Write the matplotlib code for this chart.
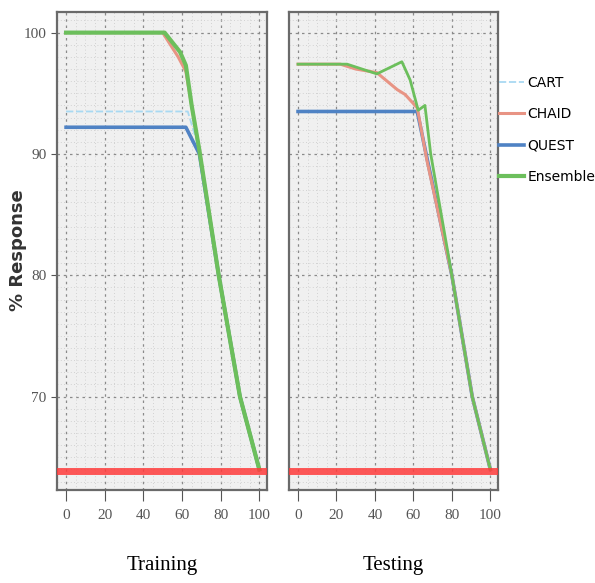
import matplotlib
matplotlib.use('Agg')
import matplotlib.pyplot as plt
from matplotlib.ticker import MultipleLocator

# Training panel
train_cart_x = [0, 63, 69, 79, 90, 100]
train_cart_y = [93.5, 93.5, 90.3, 80, 70, 64]
train_chaid_x = [0, 50, 58, 62, 65, 69, 79, 90, 100]
train_chaid_y = [100, 100, 98, 96.8, 94, 90.3, 80, 70, 64]
train_quest_x = [0, 62, 69, 79, 90, 100]
train_quest_y = [92.2, 92.2, 90, 80, 70, 64]
train_ens_x = [0, 51, 59, 62, 65, 69, 79, 90, 100]
train_ens_y = [100, 100, 98.4, 97.3, 94, 90.3, 80, 70, 64]

# Testing panel
test_cart_x = [0, 62, 67, 80, 90.6, 100]
test_cart_y = [93.5, 93.5, 89.7, 80, 70, 64]
test_chaid_x = [0, 22, 30, 41, 51.6, 55.7, 62, 67, 80, 90.6, 100]
test_chaid_y = [97.4, 97.4, 97.0, 96.7, 95.3, 94.9, 93.8, 89.5, 80, 70, 64]
test_quest_x = [0, 62, 67, 80, 90.6, 100]
test_quest_y = [93.5, 93.5, 89.7, 80, 70, 64]
test_ens_x = [0, 25.5, 41, 54, 58.3, 62.5, 66, 69, 80, 90.6, 100]
test_ens_y = [97.4, 97.4, 96.6, 97.6, 96.1, 93.6, 94.0, 90, 80, 70, 64]

baseline = 63.9
panel_titles = ['Training', 'Testing']
series_names = ['CART', 'CHAID', 'QUEST', 'Ensemble']
x_ticks = [0, 20, 40, 60, 80, 100]
y_ticks = [70, 80, 90, 100]

styles = {
    'CART': dict(color='#a9d9f2', lw=1.3, ls=(0, (4, 1.5)), zorder=3),
    'CHAID': dict(color='#e89484', lw=2.2, zorder=4),
    'QUEST': dict(color='#4f82c4', lw=2.6, zorder=3),
    'Ensemble': dict(color='#6cbf5c', lw=2.0, zorder=5),
}

data = [
    [(train_cart_x, train_cart_y), (train_chaid_x, train_chaid_y),
     (train_quest_x, train_quest_y), (train_ens_x, train_ens_y)],
    [(test_cart_x, test_cart_y), (test_chaid_x, test_chaid_y),
     (test_quest_x, test_quest_y), (test_ens_x, test_ens_y)],
]

fig = plt.figure(figsize=(5.95, 5.83), dpi=100)
ax_l = fig.add_axes([57/595, 1-490/583, 210/595, 478/583])
ax_r = fig.add_axes([289/595, 1-490/583, 209/595, 478/583])

tick_font = dict(family='Liberation Serif', size=11)

for i, ax in enumerate([ax_l, ax_r]):
    ax.set_facecolor('#f0f0f0')
    for name, (xs, ys) in zip(series_names, data[i]):
        st = dict(styles[name])
        if i == 0 and name == 'Ensemble':
            st['lw'] = 3.0  # thicker on the training side
        ax.plot(xs, ys, label=name, **st)
    ax.axhline(baseline, color='#ff3b3b', lw=5, alpha=0.85, zorder=6)
    ax.set_xlim(-4.7, 104)
    ax.set_ylim(62.3, 101.7)
    ax.set_xticks(x_ticks)
    ax.set_yticks(y_ticks)
    ax.xaxis.set_minor_locator(MultipleLocator(5))
    ax.yaxis.set_minor_locator(MultipleLocator(1))
    ax.grid(which='major', color='#8a8a8a', ls=(0, (2, 3)), lw=0.9)
    ax.grid(which='minor', color='#c8c8c8', ls=(0, (1, 3)), lw=0.6)
    ax.set_axisbelow(True)
    for sp in ax.spines.values():
        sp.set_color('#6a6a6a')
        sp.set_linewidth(1.6)
    ax.tick_params(axis='x', which='major', length=8, color='#555555',
                   labelcolor='#555555', pad=6)
    ax.tick_params(which='minor', length=0)
    for lab in ax.get_xticklabels():
        lab.set_fontfamily(tick_font['family'])
        lab.set_fontsize(tick_font['size'])
    ax.text(0.5, -0.157, panel_titles[i], transform=ax.transAxes,
            ha='center', va='center', family='Liberation Serif', fontsize=15)

ax_l.tick_params(axis='y', which='major', length=4, color='#555555',
                 labelcolor='#555555')
for lab in ax_l.get_yticklabels():
    lab.set_fontfamily(tick_font['family'])
    lab.set_fontsize(tick_font['size'])
ax_r.tick_params(axis='y', which='major', length=0, labelleft=False)

fig.text(18/595, 1-250/583, '% Response', rotation=90, ha='center',
         va='center', fontsize=13, fontweight='bold', color='#333333')

handles, labels = ax_l.get_legend_handles_labels()
fig.legend(handles, labels, loc='upper left',
           bbox_to_anchor=(499/595, 1-76/583), frameon=False,
           fontsize=10, handlelength=1.8, handletextpad=0.25,
           labelspacing=1.24, borderaxespad=0, borderpad=0)

fig.savefig('out.png', dpi=100)
